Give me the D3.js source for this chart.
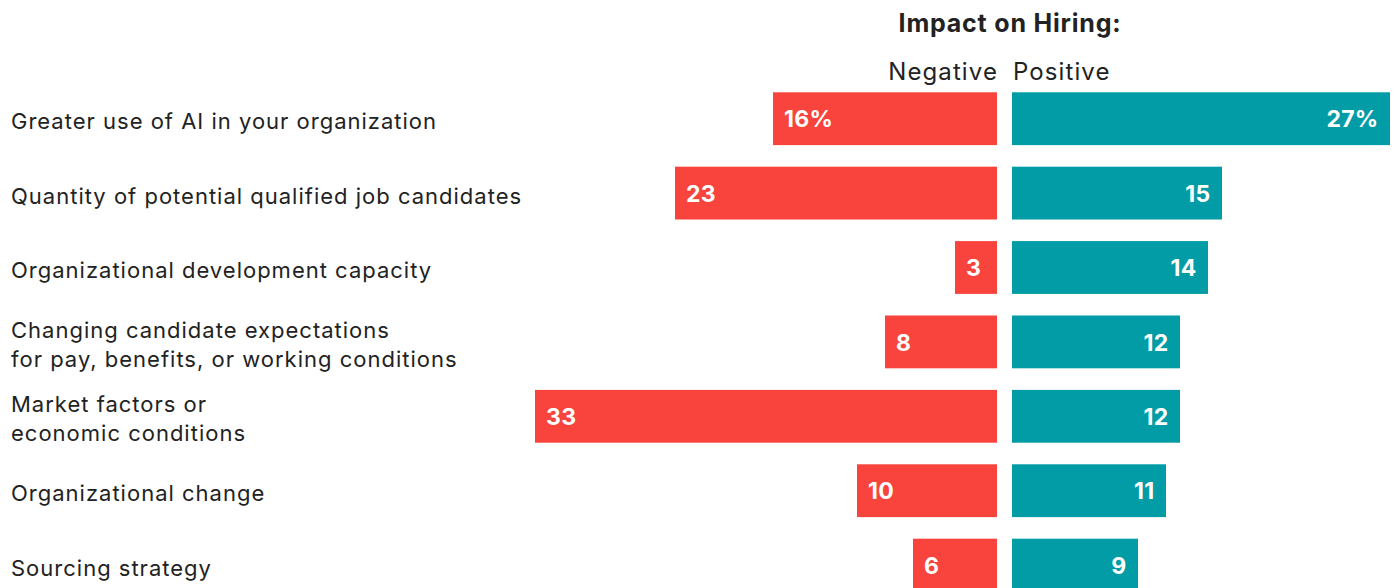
<!DOCTYPE html>
<html>
<head>
<meta charset="utf-8">
<script src="https://cdn.jsdelivr.net/npm/d3@7"></script>
<style>
  html, body { margin: 0; padding: 0; background: #ffffff; }
  svg { display: block; }
  text { font-family: "Inter", "Noto Sans", sans-serif; }
</style>
</head>
<body>
<svg id="chart" width="1394" height="588"></svg>
<script>
// Factors affecting hiring, split by reported impact (percent of respondents)
const categories = [
  ["Greater use of AI in your organization"],
  ["Quantity of potential qualified job candidates"],
  ["Organizational development capacity"],
  ["Changing candidate expectations", "for pay, benefits, or working conditions"],
  ["Market factors or", "economic conditions"],
  ["Organizational change"],
  ["Sourcing strategy"]
];
const negativeValues = [16, 23, 3, 8, 33, 10, 6];
const positiveValues = [27, 15, 14, 12, 12, 11, 9];
const titleText = "Impact on Hiring:";
const seriesNames = ["Negative", "Positive"];

const svg = d3.select("#chart");
const negColor = "#f9443d";
const posColor = "#019ca5";
const textColor = "#222222";

const centerNeg = 997;   // right edge of negative bars
const centerPos = 1012;  // left edge of positive bars
const unit = 14;         // pixels per percentage point

const xNeg = d3.scaleLinear().domain([0, 40]).range([centerNeg, centerNeg - 40 * unit]);
const xPos = d3.scaleLinear().domain([0, 30]).range([centerPos, centerPos + 30 * unit]);

const rows = d3.range(categories.length);
const y = d3.scaleBand()
  .domain(rows)
  .range([81.5, 81.5 + 74.4 * categories.length])
  .paddingInner(0.29)
  .paddingOuter(0.145);

// Title and series headers
svg.append("text")
  .attr("x", 1010).attr("y", 32)
  .attr("text-anchor", "middle")
  .attr("font-size", 25).attr("font-weight", 700)
  .attr("letter-spacing", 0.8)
  .attr("fill", textColor)
  .text(titleText);

svg.append("text")
  .attr("x", centerNeg + 1).attr("y", 80)
  .attr("text-anchor", "end")
  .attr("font-size", 24)
  .attr("letter-spacing", 1.1)
  .attr("fill", textColor)
  .text(seriesNames[0]);

svg.append("text")
  .attr("x", centerPos + 1).attr("y", 80)
  .attr("text-anchor", "start")
  .attr("font-size", 24)
  .attr("letter-spacing", 1.1)
  .attr("fill", textColor)
  .text(seriesNames[1]);

// Category labels
const lineGap = 29;
svg.append("g").selectAll("text")
  .data(rows)
  .join("text")
  .attr("x", 11)
  .attr("font-size", 22)
  .attr("letter-spacing", 1.0)
  .attr("fill", textColor)
  .each(function (i) {
    const lines = categories[i];
    const cy = y(i) + y.bandwidth() / 2;
    const first = cy - (lines.length - 1) * lineGap / 2;
    d3.select(this).selectAll("tspan")
      .data(lines)
      .join("tspan")
      .attr("x", 11)
      .attr("y", (d, k) => first + k * lineGap)
      .attr("dy", "0.48em")
      .text(d => d);
  });

// Negative bars
svg.append("g").selectAll("rect")
  .data(rows)
  .join("rect")
  .attr("x", i => xNeg(negativeValues[i]))
  .attr("y", i => y(i))
  .attr("width", i => xNeg(0) - xNeg(negativeValues[i]))
  .attr("height", y.bandwidth())
  .attr("fill", negColor);

// Positive bars
svg.append("g").selectAll("rect")
  .data(rows)
  .join("rect")
  .attr("x", xPos(0))
  .attr("y", i => y(i))
  .attr("width", i => xPos(positiveValues[i]) - xPos(0))
  .attr("height", y.bandwidth())
  .attr("fill", posColor);

// Value labels
svg.append("g").selectAll("text")
  .data(rows)
  .join("text")
  .attr("x", i => xNeg(negativeValues[i]) + 11)
  .attr("y", i => y(i) + y.bandwidth() / 2)
  .attr("dy", "0.38em")
  .attr("font-size", 23).attr("font-weight", 700)
  .attr("letter-spacing", 0.3)
  .attr("fill", "#ffffff")
  .text(i => negativeValues[i] + (i === 0 ? "%" : ""));

svg.append("g").selectAll("text")
  .data(rows)
  .join("text")
  .attr("x", i => xPos(positiveValues[i]) - 11.5)
  .attr("y", i => y(i) + y.bandwidth() / 2)
  .attr("dy", "0.38em")
  .attr("text-anchor", "end")
  .attr("font-size", 23).attr("font-weight", 700)
  .attr("letter-spacing", 0.3)
  .attr("fill", "#ffffff")
  .text(i => positiveValues[i] + (i === 0 ? "%" : ""));
</script>
</body>
</html>
